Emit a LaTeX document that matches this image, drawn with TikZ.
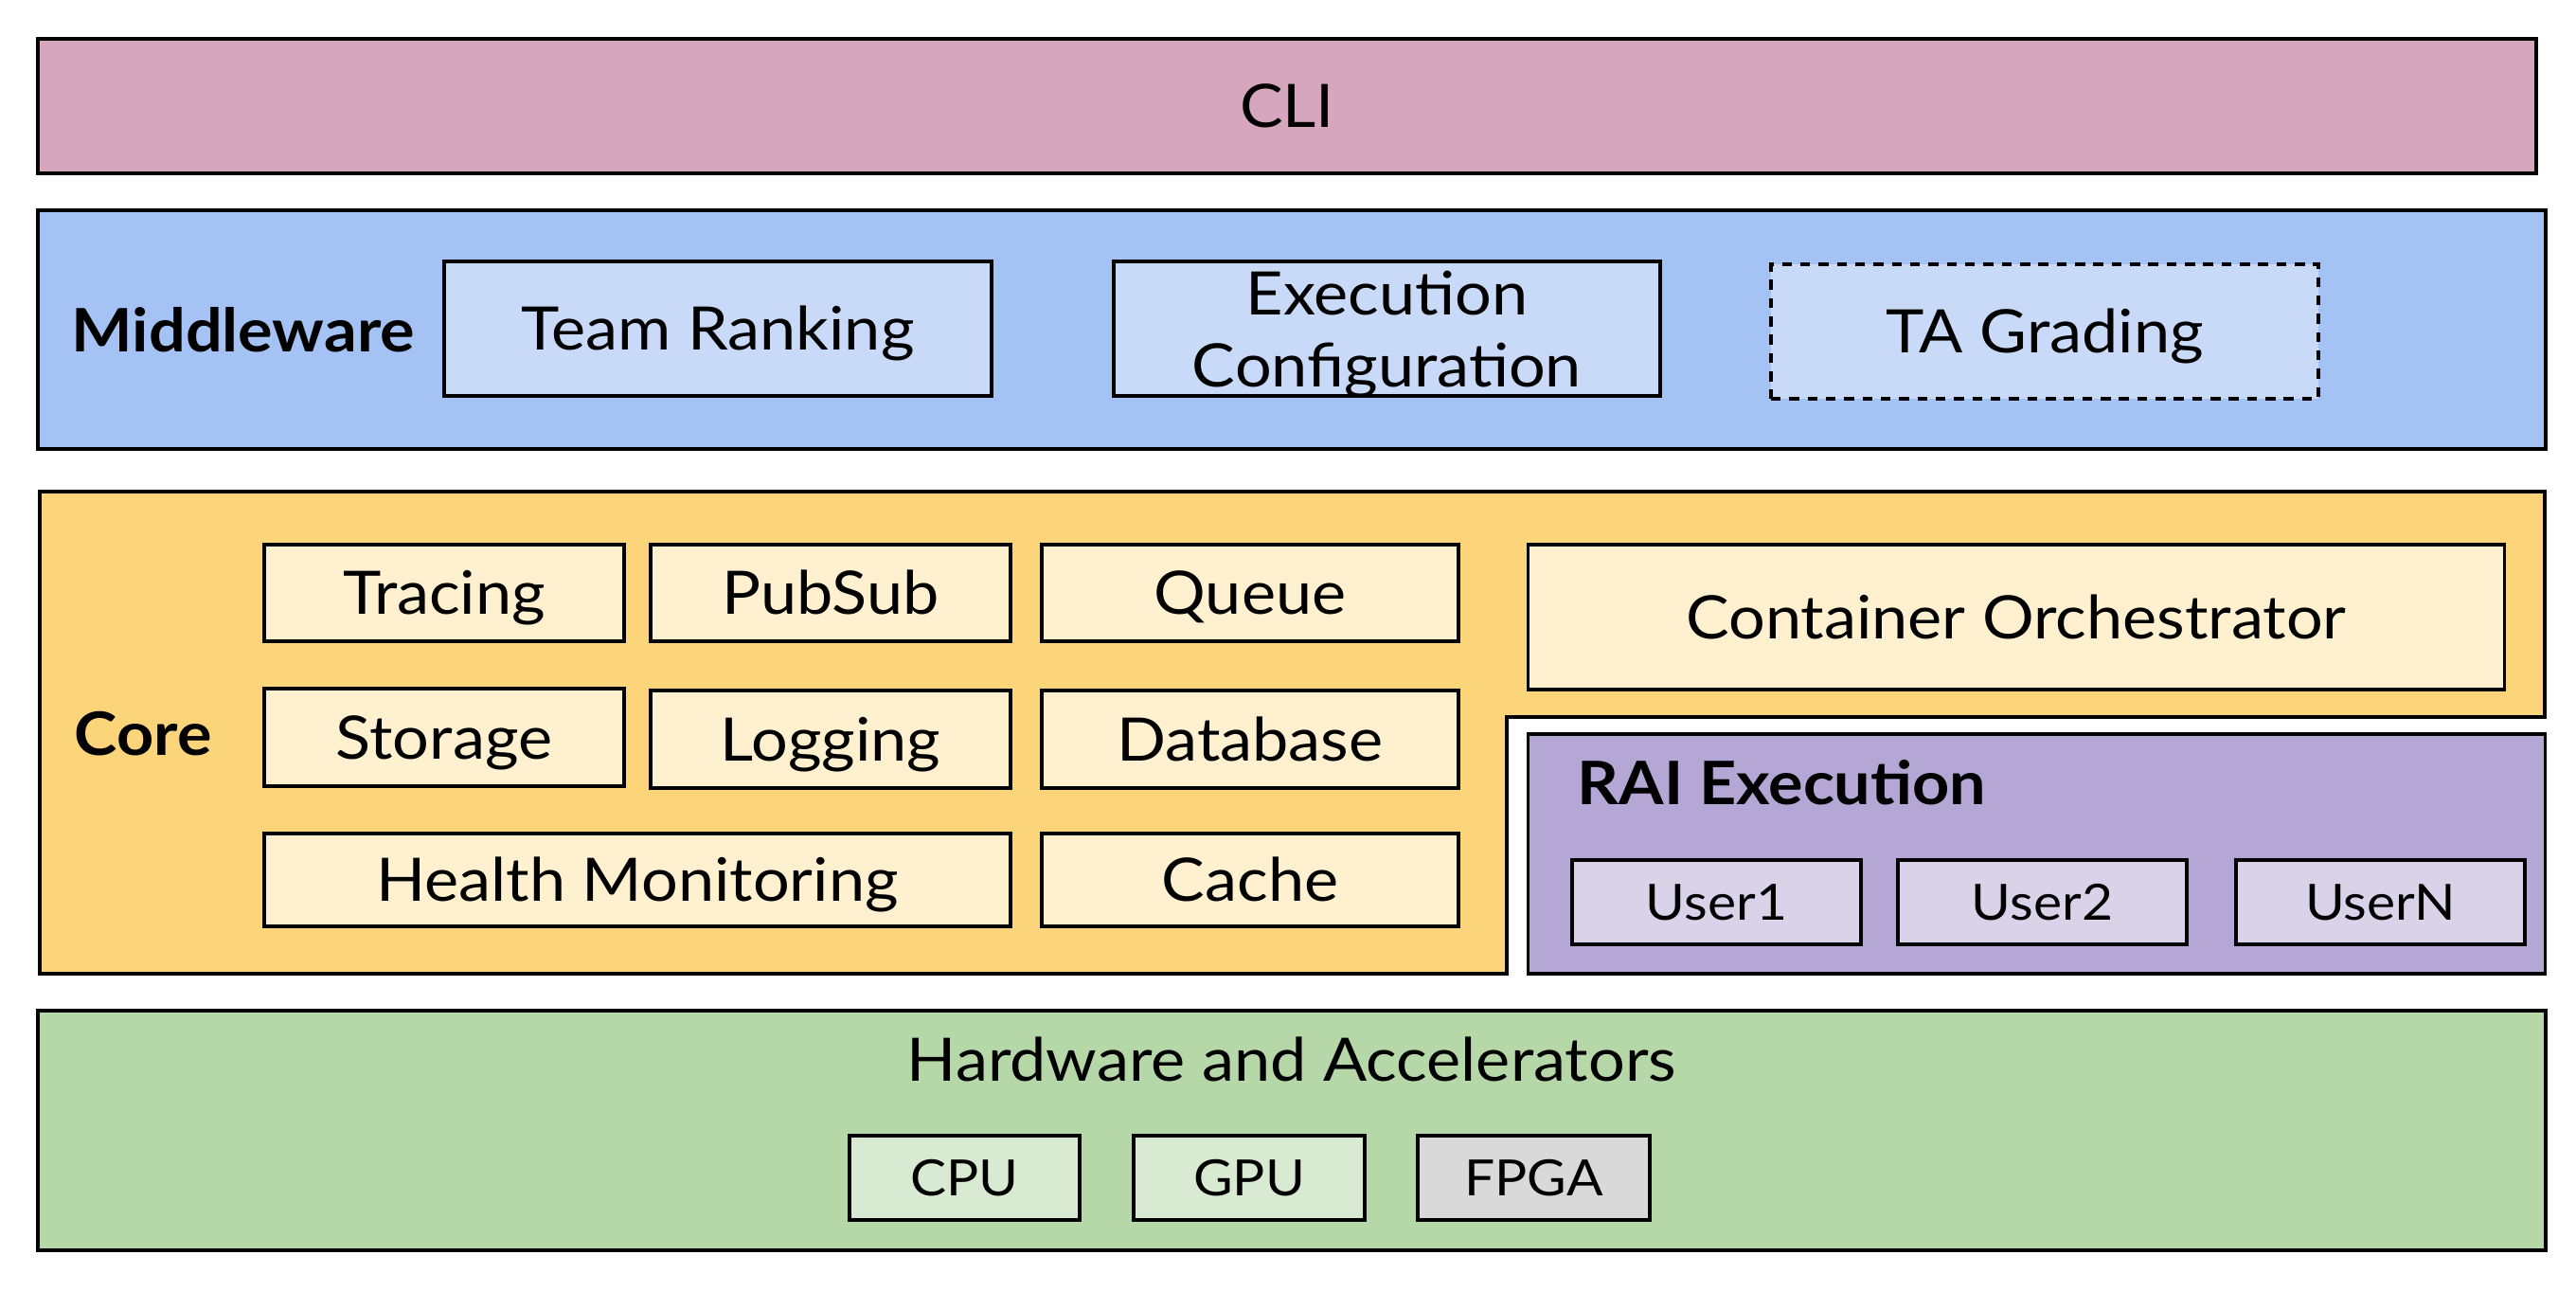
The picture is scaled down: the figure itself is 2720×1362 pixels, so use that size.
\documentclass[tikz,border=0pt]{standalone}
\usepackage{fontspec}
\setmainfont{Lato}[FakeStretch=1.08]
\definecolor{cliC}{HTML}{D5A6BD}
\definecolor{midC}{HTML}{A4C2F4}
\definecolor{midIn}{HTML}{C9DAF8}
\definecolor{coreC}{HTML}{FCD57A}
\definecolor{coreIn}{HTML}{FFF0CF}
\definecolor{raiC}{HTML}{B4A7D6}
\definecolor{raiIn}{HTML}{D9D2E9}
\definecolor{hwC}{HTML}{B6D7A8}
\definecolor{hwIn}{HTML}{D9EAD3}
\definecolor{fpgaC}{HTML}{D9D9D9}
\tikzset{
  bx/.style={draw=black, line width=1pt, inner sep=0pt, rectangle, align=center,
    font=\fontsize{18}{21.5}\selectfont, text height=12.9pt, text depth=0pt},
  sbx/.style={bx, font=\fontsize{15}{18}\selectfont, text height=10.75pt},
  lbl/.style={inner sep=0pt, font=\fontsize{18}{21.5}\selectfont, text height=12.9pt, text depth=0pt},
  blbl/.style={lbl, font=\fontsize{18}{21.5}\bfseries\selectfont},
}
\begin{document}
\begin{tikzpicture}[x=0.01cm, y=-0.01cm]
\useasboundingbox (0,0) rectangle (2720,1362);
% CLI
\node[bx, fill=cliC, minimum width=26.36cm, minimum height=1.42cm] (cli) at (1359,112) {CLI};
% Middleware
\node[bx, fill=midC, minimum width=26.46cm, minimum height=2.52cm] (mid) at (1364,348) {};
\node[blbl, anchor=west] (midl) at (75,349) {Middleware};
\node[bx, fill=midIn, minimum width=5.78cm, minimum height=1.42cm] (team) at (758,347) {Team Ranking};
\node[bx, fill=midIn, minimum width=5.77cm, minimum height=1.42cm, text height=0pt] (exec) at (1464.5,347) {};
\node[lbl, align=center, text height=34.4pt] (execl) at (1464.5,347.5) {Execution\\Configuration};
\node[bx, fill=midIn, dash pattern=on 3pt off 2.5pt, minimum width=5.78cm, minimum height=1.42cm] (ta) at (2159,350) {TA Grading};
% Core
\path[draw=black, line width=1pt, fill=coreC] (42,519) -- (2687,519) -- (2687,757) -- (1591,757) -- (1591,1028) -- (42,1028) -- cycle;
\node[blbl, anchor=west] (corel) at (78,775) {Core};
\node[bx, fill=coreIn, minimum width=3.80cm, minimum height=1.02cm] (tracing) at (469,626) {Tracing};
\node[bx, fill=coreIn, minimum width=3.80cm, minimum height=1.02cm] (pubsub) at (877,626) {PubSub};
\node[bx, fill=coreIn, minimum width=4.40cm, minimum height=1.02cm] (queue) at (1320,626) {Queue};
\node[bx, fill=coreIn, minimum width=10.30cm, minimum height=1.53cm] (cont) at (2129,651.5) {Container Orchestrator};
\node[bx, fill=coreIn, minimum width=3.80cm, minimum height=1.03cm] (storage) at (469,778.5) {Storage};
\node[bx, fill=coreIn, minimum width=3.80cm, minimum height=1.03cm] (logging) at (877,780.5) {Logging};
\node[bx, fill=coreIn, minimum width=4.40cm, minimum height=1.03cm] (database) at (1320,780.5) {Database};
\node[bx, fill=coreIn, minimum width=7.88cm, minimum height=0.98cm] (health) at (673,929) {Health Monitoring};
\node[bx, fill=coreIn, minimum width=4.40cm, minimum height=0.98cm] (cache) at (1320,929) {Cache};
% RAI Execution
\node[bx, fill=raiC, minimum width=10.73cm, minimum height=2.53cm] (rai) at (2150.5,901.5) {};
\node[blbl, anchor=west] (rail) at (1665,826.5) {RAI Execution};
\node[sbx, fill=raiIn, minimum width=3.05cm, minimum height=0.89cm] (u1) at (1812.5,952.5) {User1};
\node[sbx, fill=raiIn, minimum width=3.05cm, minimum height=0.89cm] (u2) at (2156.5,952.5) {User2};
\node[sbx, fill=raiIn, minimum width=3.05cm, minimum height=0.89cm] (un) at (2513.5,952.5) {UserN};
% Hardware
\node[bx, fill=hwC, minimum width=26.46cm, minimum height=2.53cm] (hw) at (1364,1193.5) {};
\node[lbl] (hwl) at (1364,1119) {Hardware and Accelerators};
\node[sbx, fill=hwIn, minimum width=2.43cm, minimum height=0.89cm] (cpu) at (1018.5,1243.5) {CPU};
\node[sbx, fill=hwIn, minimum width=2.44cm, minimum height=0.89cm] (gpu) at (1319,1243.5) {GPU};
\node[sbx, fill=fpgaC, minimum width=2.45cm, minimum height=0.89cm] (fpga) at (1619.5,1243.5) {FPGA};
\end{tikzpicture}
\end{document}
